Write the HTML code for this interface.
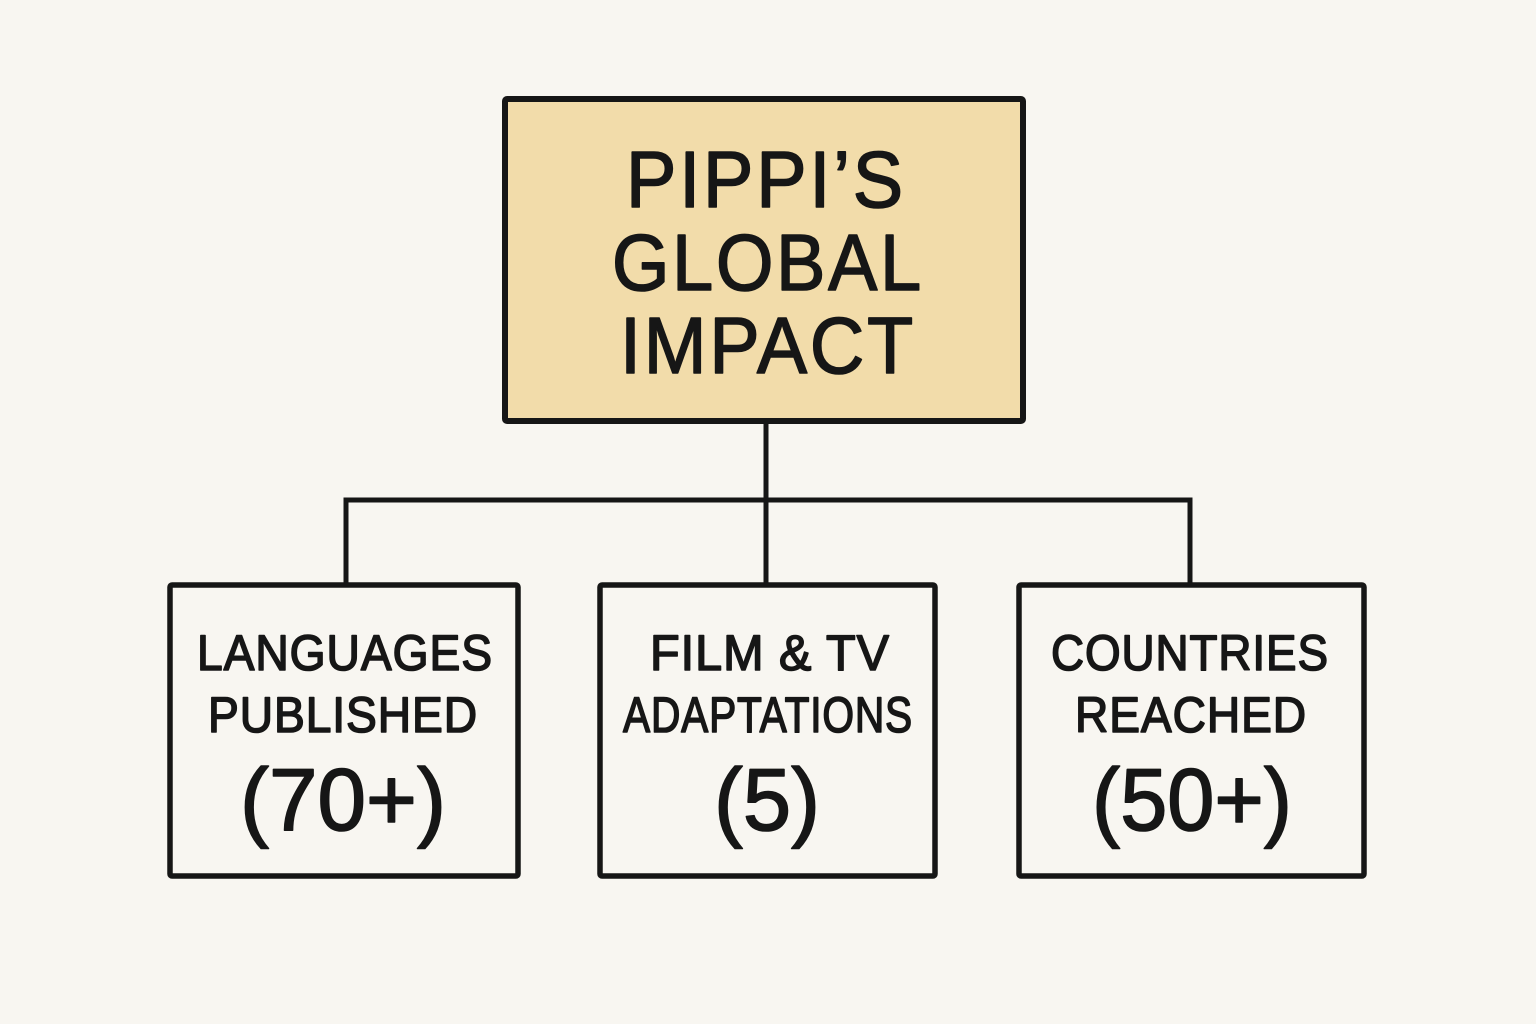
<!DOCTYPE html>
<html><head><meta charset="utf-8"><style>
html,body{margin:0;padding:0;background:#f8f6f1;}
svg{display:block}
text{font-family:"Liberation Sans",sans-serif;fill:#161616;stroke:#161616;stroke-width:1.6;stroke-linejoin:round;text-anchor:middle;}
</style></head><body>
<svg width="1536" height="1024" viewBox="0 0 1536 1024">
<rect width="1536" height="1024" fill="#f8f6f1"/>
<g stroke="#161616" stroke-width="5" fill="none" stroke-linecap="round">
<line x1="766" y1="422" x2="766" y2="583"/>
<polyline points="346,583 346,500 1190,500 1190,583"/>
</g>
<rect x="505" y="99" width="518" height="322" fill="#f2dcaa" stroke="#161616" stroke-width="6" rx="2"/>
<rect x="170" y="585" width="348" height="291" fill="#f8f6f1" stroke="#161616" stroke-width="5.5" rx="2"/>
<rect x="600" y="585" width="335" height="291" fill="#f8f6f1" stroke="#161616" stroke-width="5.5" rx="2"/>
<rect x="1019" y="585" width="345" height="291" fill="#f8f6f1" stroke="#161616" stroke-width="5.5" rx="2"/>
<g font-size="80" letter-spacing="3">
<text x="766" y="207" textLength="280" lengthAdjust="spacingAndGlyphs">PIPPI’S</text>
<text x="768" y="290" textLength="312" lengthAdjust="spacingAndGlyphs">GLOBAL</text>
<text x="768" y="373" textLength="296" lengthAdjust="spacingAndGlyphs">IMPACT</text>
</g>
<g font-size="50" letter-spacing="1">
<text x="345" y="670" textLength="296" lengthAdjust="spacingAndGlyphs">LANGUAGES</text>
<text x="343" y="732" textLength="270" lengthAdjust="spacingAndGlyphs">PUBLISHED</text>
<text x="770" y="670" textLength="240" lengthAdjust="spacingAndGlyphs">FILM &amp; TV</text>
<text x="768" y="732" textLength="290" lengthAdjust="spacingAndGlyphs">ADAPTATIONS</text>
<text x="1190" y="670" textLength="278" lengthAdjust="spacingAndGlyphs">COUNTRIES</text>
<text x="1191" y="732" textLength="232" lengthAdjust="spacingAndGlyphs">REACHED</text>
</g>
<g font-size="88">
<text x="343" y="830" textLength="206" lengthAdjust="spacingAndGlyphs">(70+)</text>
<text x="767" y="830" textLength="106" lengthAdjust="spacingAndGlyphs">(5)</text>
<text x="1192" y="830" textLength="200" lengthAdjust="spacingAndGlyphs">(50+)</text>
</g>
</svg>
</body></html>
